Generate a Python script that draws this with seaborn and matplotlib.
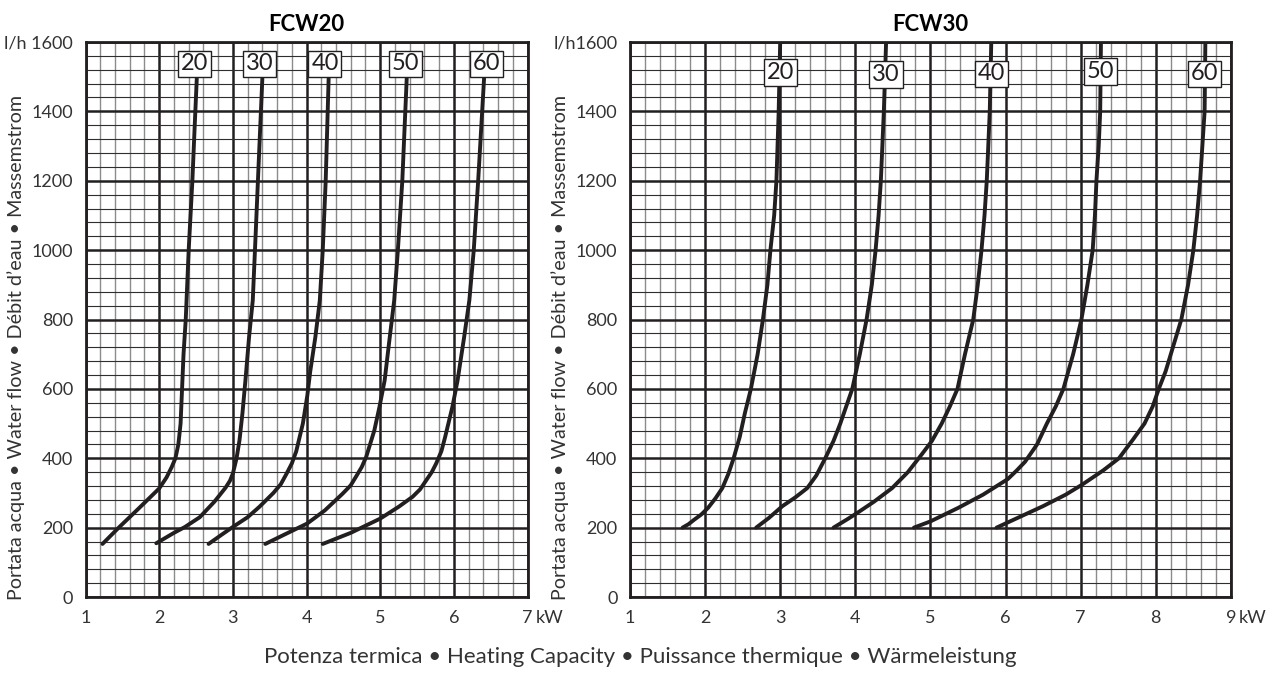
import numpy as np
import pandas as pd
import matplotlib
matplotlib.use("Agg")
import matplotlib.pyplot as plt
from matplotlib.ticker import MultipleLocator, FixedLocator
import seaborn as sns

sns.set_style("white")
plt.rcParams["font.family"] = ["Lato", "DejaVu Sans"]

# ---- data: heating capacity (kW) vs water flow (l/h) ----
# FCW20
fcw20_20_kw = [1.23, 1.45, 1.72, 2.00, 2.10, 2.17, 2.22, 2.26, 2.29, 2.31, 2.33, 2.36, 2.40, 2.45, 2.48, 2.51]
fcw20_20_lh = [153, 200, 255, 313, 345, 375, 400, 440, 500, 600, 700, 800, 1000, 1200, 1350, 1495]
fcw20_30_kw = [1.96, 2.20, 2.35, 2.55, 2.75, 2.90, 2.96, 3.00, 3.05, 3.09, 3.13, 3.17, 3.22, 3.27, 3.31, 3.35, 3.40]
fcw20_30_lh = [155, 185, 202, 230, 275, 315, 335, 356, 400, 452, 530, 624, 750, 855, 1050, 1250, 1495]
fcw20_40_kw = [2.67, 2.85, 3.00, 3.20, 3.36, 3.55, 3.65, 3.73, 3.80, 3.86, 3.95, 4.01, 4.05, 4.12, 4.18, 4.22, 4.26, 4.30]
fcw20_40_lh = [153, 180, 202, 230, 260, 300, 325, 356, 385, 420, 500, 580, 650, 750, 855, 1000, 1200, 1495]
fcw20_50_kw = [3.44, 3.70, 4.01, 4.25, 4.49, 4.60, 4.68, 4.75, 4.81, 4.92, 4.99, 5.06, 5.13, 5.19, 5.24, 5.30, 5.36]
fcw20_50_lh = [153, 180, 212, 250, 298, 322, 350, 375, 404, 480, 548, 624, 750, 855, 1000, 1200, 1495]
fcw20_60_kw = [4.22, 4.60, 5.00, 5.25, 5.44, 5.54, 5.62, 5.70, 5.76, 5.83, 5.88, 5.98, 6.05, 6.14, 6.21, 6.27, 6.33, 6.41]
fcw20_60_lh = [153, 185, 226, 260, 289, 310, 335, 360, 385, 420, 460, 548, 624, 750, 855, 1000, 1200, 1495]

# FCW30
fcw30_20_kw = [1.70, 1.78, 1.85, 1.95, 2.04, 2.14, 2.23, 2.31, 2.38, 2.46, 2.53, 2.61, 2.70, 2.77, 2.83, 2.87, 2.92, 2.95, 2.98, 3.00]
fcw30_20_lh = [200, 210, 222, 238, 257, 285, 314, 355, 400, 460, 530, 600, 700, 800, 900, 1000, 1100, 1200, 1400, 1600]
fcw30_30_kw = [2.68, 2.85, 3.03, 3.20, 3.36, 3.48, 3.60, 3.71, 3.80, 3.96, 4.06, 4.15, 4.22, 4.27, 4.31, 4.34, 4.38, 4.41]
fcw30_30_lh = [200, 228, 262, 287, 314, 350, 400, 450, 500, 600, 700, 800, 900, 1000, 1100, 1200, 1400, 1600]
fcw30_40_kw = [3.71, 3.90, 4.03, 4.25, 4.49, 4.70, 4.88, 5.02, 5.15, 5.26, 5.36, 5.46, 5.57, 5.63, 5.68, 5.72, 5.75, 5.79, 5.81]
fcw30_40_lh = [200, 225, 243, 275, 314, 360, 410, 450, 500, 550, 600, 700, 800, 900, 1000, 1100, 1200, 1400, 1600]
fcw30_50_kw = [4.78, 5.00, 5.37, 5.70, 6.03, 6.15, 6.26, 6.42, 6.55, 6.67, 6.77, 6.90, 7.01, 7.09, 7.16, 7.19, 7.21, 7.24, 7.26, 7.27]
fcw30_50_lh = [200, 218, 257, 295, 340, 365, 390, 440, 500, 550, 600, 700, 800, 900, 1000, 1100, 1200, 1300, 1400, 1600]
fcw30_60_kw = [5.88, 6.10, 6.50, 6.80, 7.02, 7.30, 7.51, 7.70, 7.85, 7.96, 8.04, 8.13, 8.20, 8.34, 8.43, 8.50, 8.55, 8.59, 8.62, 8.65, 8.66]
fcw30_60_lh = [200, 222, 262, 295, 324, 365, 400, 455, 500, 550, 600, 650, 700, 800, 900, 1000, 1100, 1200, 1300, 1400, 1600]

curve_names = ["20", "30", "40", "50", "60"]
fcw20_label_kw = [2.48, 3.36, 4.25, 5.34, 6.44]
fcw20_label_lh = [1537, 1537, 1537, 1537, 1537]
fcw30_label_kw = [3.00, 4.41, 5.81, 7.26, 8.65]
fcw30_label_lh = [1512, 1506, 1508, 1514, 1508]

fcw20_x_ticks = [1, 2, 3, 4, 5, 6, 7]
fcw30_x_ticks = [1, 2, 3, 4, 5, 6, 7, 8, 9]
y_ticks = [0, 200, 400, 600, 800, 1000, 1200, 1400, 1600]
fcw20_y_labels = ["0", "200", "400", "600", "800", "1000", "1200", "1400", "l/h 1600"]
fcw30_y_labels = ["0", "200", "400", "600", "800", "1000", "1200", "1400", "l/h1600"]

y_title = "Portata acqua \u2022 Water flow \u2022 D\u00e9bit d\u2019eau \u2022 Massemstrom"
x_title = "Potenza termica \u2022 Heating Capacity \u2022 Puissance thermique \u2022 W\u00e4rmeleistung"

INK = "#231f20"
TXT = "#333333"

fig = plt.figure(figsize=(12.77, 6.73), dpi=100)
ax1 = fig.add_axes([0.0670, 0.1129, 0.3461, 0.8247])
ax2 = fig.add_axes([0.4933, 0.1129, 0.4706, 0.8247])


def draw_panel(ax, title, curves, lab_kw, lab_lh, xticks, ylabels, xmax, ylab_x):
    for kw, lh in curves:
        sns.lineplot(x=kw, y=lh, ax=ax, sort=False, estimator=None,
                     color=INK, lw=2.8, zorder=3)
    for name, kx, ly in zip(curve_names, lab_kw, lab_lh):
        ax.text(kx, ly, name, ha="center", va="center", fontsize=17, color=INK, zorder=5,
                bbox=dict(boxstyle="square,pad=0.12", fc="white", ec=INK, lw=1.0))
    ax.set_xlim(1, xmax)
    ax.set_ylim(0, 1600)
    ax.xaxis.set_major_locator(FixedLocator(xticks))
    ax.xaxis.set_minor_locator(MultipleLocator(0.2))
    ax.yaxis.set_major_locator(FixedLocator(y_ticks))
    ax.yaxis.set_minor_locator(MultipleLocator(40))
    ax.set_xticklabels([str(t) for t in xticks])
    ax.set_yticklabels(ylabels)
    ax.set_axisbelow(True)
    ax.grid(which="minor", axis="x", color="#8c8c8c", lw=1.0)
    ax.grid(which="minor", axis="y", color="#2e2e2e", lw=0.8)
    ax.grid(which="major", color=INK, lw=1.8)
    ax.tick_params(which="major", length=4, width=1.5, color=INK, pad=5,
                   labelsize=13, labelcolor=TXT)
    ax.tick_params(which="minor", length=0)
    for s in ax.spines.values():
        s.set_color(INK)
        s.set_linewidth(2.0)
    ax.annotate("kW", xy=(xmax, 0), xycoords=("data", "axes fraction"),
                xytext=(6, -9), textcoords="offset points",
                ha="left", va="top", fontsize=13, color=TXT)
    ax.set_title(title, fontsize=16, fontweight="bold", color="black", pad=8)
    ax.set_xlabel("")
    ax.set_ylabel(y_title, fontsize=14.2, color=TXT)
    ax.yaxis.set_label_coords(ylab_x, 0.45)


draw_panel(ax1, "FCW20",
           [(fcw20_20_kw, fcw20_20_lh), (fcw20_30_kw, fcw20_30_lh), (fcw20_40_kw, fcw20_40_lh),
            (fcw20_50_kw, fcw20_50_lh), (fcw20_60_kw, fcw20_60_lh)],
           fcw20_label_kw, fcw20_label_lh, fcw20_x_ticks, fcw20_y_labels, 7, -0.137)
draw_panel(ax2, "FCW30",
           [(fcw30_20_kw, fcw30_20_lh), (fcw30_30_kw, fcw30_30_lh), (fcw30_40_kw, fcw30_40_lh),
            (fcw30_50_kw, fcw30_50_lh), (fcw30_60_kw, fcw30_60_lh)],
           fcw30_label_kw, fcw30_label_lh, fcw30_x_ticks, fcw30_y_labels, 9, -0.102)

fig.text(0.501, 0.024, x_title, ha="center", va="center", fontsize=16, color=TXT)

fig.savefig("out.png", dpi=100)
